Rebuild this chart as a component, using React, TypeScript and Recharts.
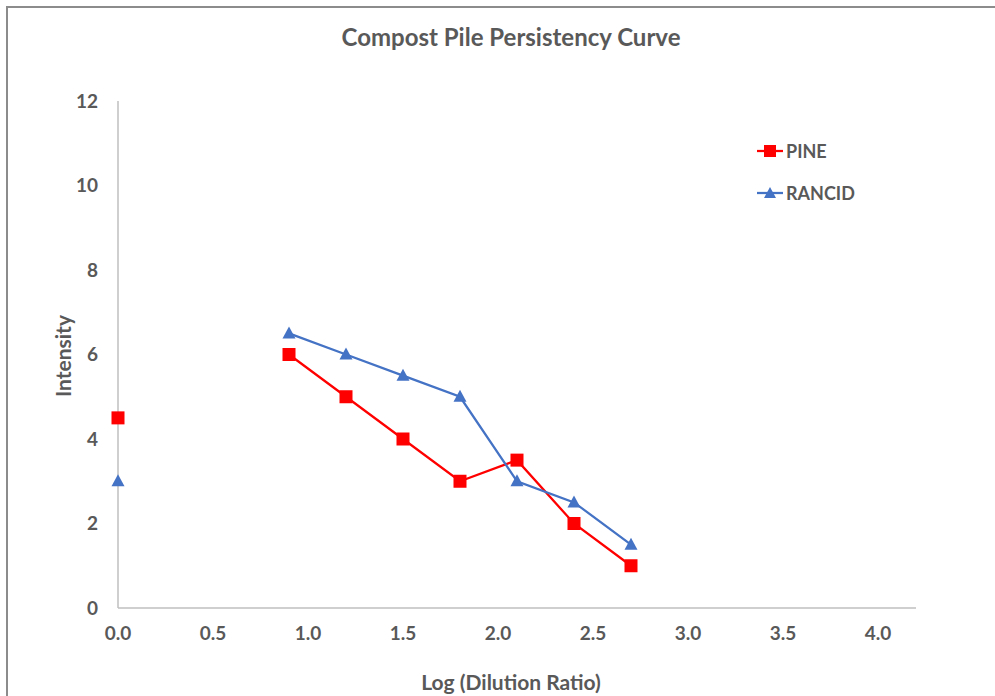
import React from "react";
import { LineChart, Line, XAxis, YAxis } from "recharts";

// Log (Dilution Ratio) values; the first point sits apart from the connected run
const dilution = [0, 0.9, 1.2, 1.5, 1.8, 2.1, 2.4, 2.7];
const pine = [4.5, 6, 5, 4, 3, 3.5, 2, 1];
const rancid = [3, 6.5, 6, 5.5, 5, 3, 2.5, 1.5];
const xTicks = [0, 0.5, 1, 1.5, 2, 2.5, 3, 3.5, 4];
const yTicks = [0, 2, 4, 6, 8, 10, 12];

const PINE_COLOR = "#FF0000";
const RANCID_COLOR = "#4472C4";
const TEXT = "#595959";
const FONT = "Lato, 'Open Sans', sans-serif";

const toPoints = (ys: number[]) => dilution.map((x, i) => ({ x, y: ys[i] }));
const pineStart = toPoints(pine).slice(0, 1);
const pineRun = toPoints(pine).slice(1);
const rancidStart = toPoints(rancid).slice(0, 1);
const rancidRun = toPoints(rancid).slice(1);

const SquareDot = (props: any) => {
  const { cx, cy } = props;
  if (cx == null || cy == null) return null;
  return <rect x={cx - 6.5} y={cy - 6.5} width={13} height={13} fill={PINE_COLOR} />;
};

const TriangleDot = (props: any) => {
  const { cx, cy } = props;
  if (cx == null || cy == null) return null;
  return (
    <polygon
      points={`${cx},${cy - 7} ${cx - 6.5},${cy + 5} ${cx + 6.5},${cy + 5}`}
      fill={RANCID_COLOR}
    />
  );
};

const legendItems = [
  { name: "PINE", color: PINE_COLOR, shape: "square" },
  { name: "RANCID", color: RANCID_COLOR, shape: "triangle" },
];

const ChartLegend = () => (
  <div
    style={{
      position: "absolute",
      left: 749,
      top: 122,
      fontFamily: FONT,
      fontWeight: 700,
      fontSize: 18,
      color: TEXT,
    }}
  >
    {legendItems.map((it) => (
      <div key={it.name} style={{ display: "flex", alignItems: "center", height: 42 }}>
        <svg width={26} height={16} style={{ marginRight: 3 }}>
          <line x1={0} y1={8} x2={26} y2={8} stroke={it.color} strokeWidth={2.25} />
          {it.shape === "square" ? (
            <rect x={7} y={2} width={12} height={12} fill={it.color} />
          ) : (
            <polygon points="13,2 7,13 19,13" fill={it.color} />
          )}
        </svg>
        <span>{it.name}</span>
      </div>
    ))}
  </div>
);

export default function App() {
  const tickStyle = { fill: TEXT, fontSize: 19, fontWeight: 700, fontFamily: FONT };
  return (
    <div
      style={{
        position: "fixed",
        left: 6,
        top: 6,
        width: 995,
        height: 696,
        overflow: "hidden",
        background: "#fff",
        borderTop: "2px solid #8c8c8c",
        borderLeft: "2px solid #8c8c8c",
      }}
    >
      <div
        style={{
          position: "absolute",
          top: 14,
          left: 0,
          width: 1006,
          textAlign: "center",
          fontFamily: FONT,
          fontWeight: 700,
          fontSize: 24,
          color: TEXT,
        }}
      >
        Compost Pile Persistency Curve
      </div>
      <div style={{ position: "absolute", left: 54, top: 348, width: 0, height: 0 }}>
        <div
          style={{
            transform: "translate(-50%, -50%) rotate(-90deg)",
            whiteSpace: "nowrap",
            fontFamily: FONT,
            fontWeight: 700,
            fontSize: 21,
            color: TEXT,
            display: "inline-block",
          }}
        >
          Intensity
        </div>
      </div>
      <div
        style={{
          position: "absolute",
          top: 661,
          left: 0,
          width: 1006,
          textAlign: "center",
          fontFamily: FONT,
          fontWeight: 700,
          fontSize: 21,
          color: TEXT,
        }}
      >
        Log (Dilution Ratio)
      </div>
      <ChartLegend />
      <div style={{ position: "absolute", left: 0, top: 0 }}>
        <LineChart
          width={987}
          height={688}
          margin={{ top: 93, right: 79, bottom: 48, left: 50 }}
        >
          <XAxis
            type="number"
            dataKey="x"
            domain={[0, 4.2]}
            ticks={xTicks}
            tickFormatter={(v: number) => v.toFixed(1)}
            tickLine={false}
            tickSize={6}
            tickMargin={13}
            height={40}
            axisLine={{ stroke: "#BFBFBF", strokeWidth: 1.5 }}
            tick={tickStyle}
          />
          <YAxis
            type="number"
            dataKey="y"
            domain={[0, 12]}
            ticks={yTicks}
            tickLine={false}
            tickSize={6}
            tickMargin={14}
            width={60}
            axisLine={{ stroke: "#BFBFBF", strokeWidth: 1.5 }}
            tick={tickStyle}
          />
          <Line
            data={pineRun}
            dataKey="y"
            name="PINE"
            stroke={PINE_COLOR}
            strokeWidth={2.25}
            dot={<SquareDot />}
            activeDot={false}
            isAnimationActive={false}
          />
          <Line
            data={pineStart}
            dataKey="y"
            name="PINE start"
            stroke="none"
            dot={<SquareDot />}
            activeDot={false}
            legendType="none"
            isAnimationActive={false}
          />
          <Line
            data={rancidRun}
            dataKey="y"
            name="RANCID"
            stroke={RANCID_COLOR}
            strokeWidth={2.25}
            dot={<TriangleDot />}
            activeDot={false}
            isAnimationActive={false}
          />
          <Line
            data={rancidStart}
            dataKey="y"
            name="RANCID start"
            stroke="none"
            dot={<TriangleDot />}
            activeDot={false}
            legendType="none"
            isAnimationActive={false}
          />
        </LineChart>
      </div>
    </div>
  );
}
